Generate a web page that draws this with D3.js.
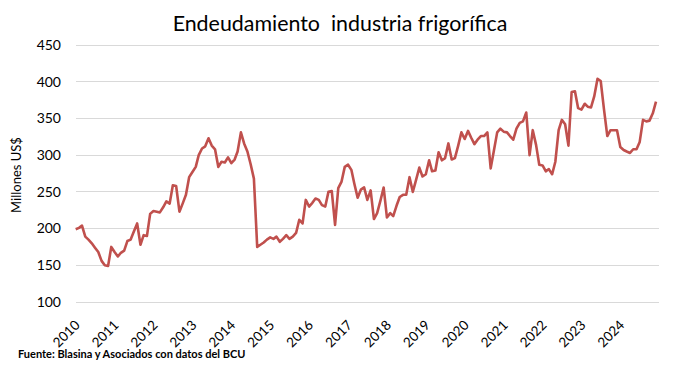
<!DOCTYPE html>
<html><head><meta charset="utf-8">
<script src="https://cdnjs.cloudflare.com/ajax/libs/d3/7.8.5/d3.min.js"></script>
<style>
body{margin:0;background:#fff;}
text{font-family:Lato,"Open Sans",sans-serif;}
</style></head>
<body><svg id="c" width="682" height="366"></svg>
<script>
const startYear = 2010;
const v2010 = [199,201,204,189,185,180,174,168,156,150,149,175];
const v2011 = [168,162,167,170,183,185,196,207,178,191,190,220];
const v2012 = [224,223,222,229,237,234,259,258,223,234,246,270];
const v2013 = [277,284,300,309,312,323,313,308,284,291,290,297];
const v2014 = [289,294,305,331,316,305,288,268,175,178,181,185];
const v2015 = [188,186,189,182,186,191,186,189,194,212,207,239];
const v2016 = [230,235,241,239,232,230,250,251,205,255,264,284];
const v2017 = [287,280,261,242,253,256,239,252,213,221,238,256];
const v2018 = [215,221,217,231,243,246,246,270,250,266,283,271];
const v2019 = [274,293,278,279,304,293,296,316,294,296,313,331];
const v2020 = [322,333,324,315,321,326,326,331,282,306,331,336];
const v2021 = [332,331,326,321,336,344,346,358,300,334,314,287];
const v2022 = [286,278,281,274,291,334,348,342,313,386,387,364];
const v2023 = [362,370,366,365,380,404,401,362,326,334,334,334];
const v2024 = [311,307,305,303,308,308,318,348,346,347,357,373];
const yTicks = [100,150,200,250,300,350,400,450];
const yearTicks = [2010,2011,2012,2013,2014,2015,2016,2017,2018,2019,2020,2021,2022,2023,2024];
const title = "Endeudamiento  industria frigorífica";
const yTitle = "Millones US$";
const source = "Fuente: Blasina y Asociados con datos del BCU";

const values = [].concat(v2010,v2011,v2012,v2013,v2014,v2015,v2016,v2017,v2018,v2019,v2020,v2021,v2022,v2023,v2024);
const data = values.map((v,i)=>({date:new Date(startYear + Math.floor(i/12), i%12, 1), v}));

const svg = d3.select("#c");
const x = d3.scaleTime().domain([new Date(2010,0,1), new Date(2025,0,1)]).range([75.7, 659.3]);
const y = d3.scaleLinear().domain([100,450]).range([302,45]);

// gridlines
svg.append("g").selectAll("line").data(yTicks).join("line")
  .attr("x1",x.range()[0]).attr("x2",x.range()[1])
  .attr("y1",d=>y(d)).attr("y2",d=>y(d))
  .attr("stroke","#d9d9d9").attr("stroke-width",1).attr("shape-rendering","crispEdges");

// y labels
svg.append("g").selectAll("text").data(yTicks).join("text")
  .attr("x",61).attr("y",d=>y(d)).attr("dy","0.35em")
  .attr("text-anchor","end").attr("font-size",14).attr("fill","#000").text(d=>d);

// x labels
svg.append("g").selectAll("text").data(yearTicks).join("text")
  .attr("transform",d=>`translate(${x(new Date(d,0,1))+5},${326}) rotate(-45)`)
  .attr("text-anchor","end").attr("font-size",13.5).attr("fill","#000").text(d=>d);

// line
svg.append("path").datum(data)
  .attr("fill","none").attr("stroke","#c0504d").attr("stroke-width",2.6)
  .attr("stroke-linejoin","round")
  .attr("d", d3.line().x(d=>x(d.date)).y(d=>y(d.v)));

// title
svg.append("text").attr("x",340).attr("y",30.5).attr("text-anchor","middle")
  .attr("font-size",21.4).attr("fill","#000").style("white-space","pre").text(title);

// y title
svg.append("text").attr("transform","translate(21,175) rotate(-90)")
  .attr("text-anchor","middle").attr("font-size",13).attr("fill","#000").text(yTitle);

// source
svg.append("text").attr("x",18).attr("y",357.5).attr("font-size",11).attr("font-weight","bold")
  .attr("fill","#000").text(source);
</script></body></html>
